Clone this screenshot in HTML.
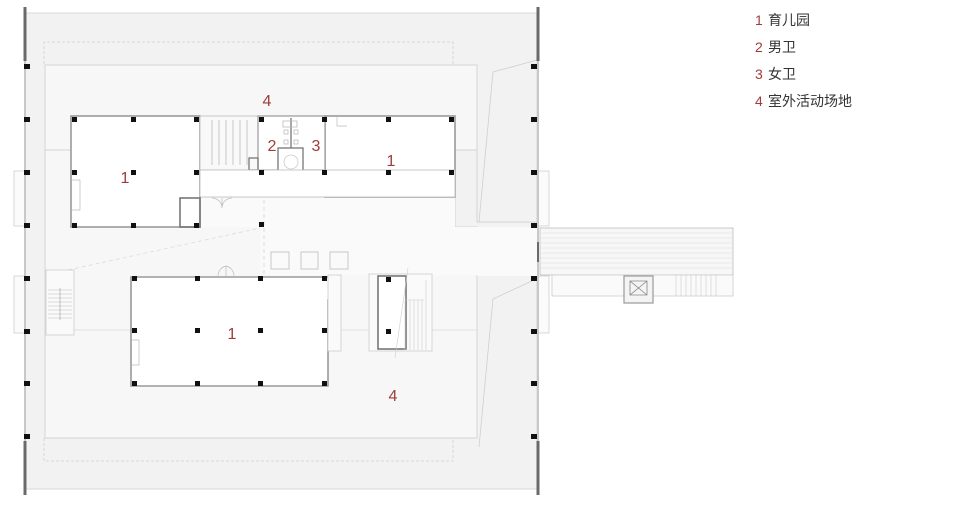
<!DOCTYPE html>
<html><head><meta charset="utf-8"><style>
html,body{margin:0;padding:0;background:#fff;width:960px;height:509px;overflow:hidden}
svg{display:block}
.lg{font-family:"Liberation Sans","Noto Sans CJK SC",sans-serif;font-size:14px}
</style></head><body>
<svg width="960" height="509" viewBox="0 0 960 509" xmlns="http://www.w3.org/2000/svg">
<!-- outer deck -->
<rect x="25" y="13" width="512" height="476" fill="#f2f2f2" stroke="#d8d8d8" stroke-width="1"/>
<!-- side boxes -->
<g fill="#fbfbfb" stroke="#cfcfcf" stroke-width="0.8">
<rect x="14" y="171" width="11" height="55"/><rect x="14" y="276" width="11" height="57"/>
<rect x="537" y="171" width="12" height="55"/><rect x="537" y="276" width="12" height="57"/>
</g>
<!-- dashed -->
<g fill="none" stroke="#cfcfcf" stroke-width="0.8" stroke-dasharray="3,2">
<polyline points="44,64 44,42 453,42 453,64"/>
<polyline points="44,438 44,461 453,461 453,438"/>
</g>
<!-- platform -->
<path d="M45,65 H477 V150 H455 V227 H477 V438 H45 Z" fill="#f7f7f7" stroke="#d4d4d4" stroke-width="1"/>
<path d="M477,65 V222 H537 M477,280 V438" fill="none" stroke="#d4d4d4" stroke-width="1"/>
<polyline points="537,60 493,72 479,222" fill="none" stroke="#cfcfcf" stroke-width="0.8"/>
<polyline points="536,279 493,299 479,447" fill="none" stroke="#cfcfcf" stroke-width="0.8"/>
<line x1="45" y1="150" x2="70" y2="150" stroke="#d4d4d4"/>
<!-- corridor light region -->
<path d="M200,197 H455 V227 H537 V276 H477 V275 H260 V227 H200 Z" fill="#fafafa"/>
<line x1="68" y1="270" x2="260" y2="228" stroke="#d8d8d8" stroke-width="0.7" stroke-dasharray="4,3"/>
<line x1="264" y1="200" x2="264" y2="275" stroke="#cfcfcf" stroke-width="0.7" stroke-dasharray="4,3"/>
<line x1="74" y1="330" x2="131" y2="330" stroke="#d8d8d8" stroke-width="0.8"/>
<line x1="341" y1="330" x2="369" y2="330" stroke="#d8d8d8" stroke-width="0.8"/>
<line x1="432" y1="330" x2="477" y2="330" stroke="#d8d8d8" stroke-width="0.8"/>
<!-- outer edge bars -->
<line x1="25" y1="7" x2="25" y2="495" stroke="#c8c8c8" stroke-width="2"/>
<line x1="538" y1="7" x2="538" y2="495" stroke="#c8c8c8" stroke-width="2"/>
<g stroke="#6a6a6a" stroke-width="3">
<line x1="25" y1="7" x2="25" y2="61"/><line x1="25" y1="441" x2="25" y2="495"/>
<line x1="538" y1="7" x2="538" y2="61"/><line x1="538" y1="441" x2="538" y2="495"/>
<line x1="538" y1="242" x2="538" y2="262" stroke-width="2"/>
</g>
<!-- buildings -->
<g fill="#fff" stroke="#9a9a9a" stroke-width="1.6">
<rect x="71" y="116" width="129" height="111"/>
<rect x="325" y="116" width="130" height="81"/>
<path d="M131,277 H330 V300 H328 V386 H131 Z"/>
</g>
<rect x="200" y="116" width="58" height="54" fill="#f9f9f9" stroke="#bbb" stroke-width="0.8"/>
<g stroke="#d0d0d0" stroke-width="1.2">
<line x1="212" y1="120" x2="212" y2="165"/><line x1="219" y1="120" x2="219" y2="165"/>
<line x1="226" y1="120" x2="226" y2="165"/><line x1="233" y1="120" x2="233" y2="165"/>
<line x1="240" y1="120" x2="240" y2="165"/><line x1="247" y1="120" x2="247" y2="165"/>
</g>
<rect x="258" y="116" width="67" height="54" fill="#fff" stroke="#999" stroke-width="1.2"/>
<line x1="291" y1="118" x2="291" y2="148" stroke="#888" stroke-width="1.5"/>
<rect x="278" y="148" width="25" height="25" fill="#fff" stroke="#777" stroke-width="1.3"/>
<circle cx="291" cy="162" r="7" fill="none" stroke="#ccc" stroke-width="0.8"/>
<g fill="none" stroke="#bbb" stroke-width="0.8">
<rect x="283" y="121" width="14" height="6"/><rect x="284" y="130" width="4" height="4"/><rect x="294" y="130" width="4" height="4"/>
<rect x="284" y="140" width="4" height="4"/><rect x="294" y="140" width="4" height="4"/>
</g>
<rect x="249" y="158" width="9" height="12" fill="none" stroke="#777" stroke-width="1.3"/>
<rect x="200" y="170" width="255" height="27" fill="#fff" stroke="#bbb" stroke-width="0.8"/>
<rect x="180" y="198" width="20" height="29" fill="none" stroke="#777" stroke-width="1.6"/>
<!-- doors -->
<g fill="none" stroke="#bbb" stroke-width="0.7">
<path d="M222,198 v10 a10,10 0 0 0 -10,-10 M222,198 v10 a10,10 0 0 1 10,-10"/>
<path d="M226,276 v-10 a10,10 0 0 0 -8,10 M226,276 v-10 a10,10 0 0 1 8,10"/>
<path d="M72,180 h8 v30 h-8"/>
<path d="M131,340 h8 v25 h-8"/>
<path d="M337,116 v10 h10"/>
</g>
<!-- small squares -->
<g fill="#fafafa" stroke="#c8c8c8" stroke-width="1">
<rect x="271" y="252" width="18" height="17"/><rect x="301" y="252" width="17" height="17"/><rect x="330" y="252" width="18" height="17"/>
</g>
<rect x="328" y="275" width="13" height="76" fill="#fafafa" stroke="#ccc" stroke-width="0.8"/>
<!-- stair right -->
<rect x="369" y="274" width="63" height="77" fill="#fafafa" stroke="#ccc" stroke-width="0.8"/>
<rect x="378" y="276" width="28" height="73" fill="#fff" stroke="#777" stroke-width="1.6"/>
<g stroke="#ccc" stroke-width="0.6">
<line x1="405" y1="300" x2="424" y2="300"/><line x1="405" y1="350" x2="405" y2="300"/>
<line x1="410" y1="300" x2="410" y2="350"/><line x1="414" y1="300" x2="414" y2="350"/><line x1="418" y1="300" x2="418" y2="350"/><line x1="422" y1="300" x2="422" y2="350"/><line x1="426" y1="280" x2="426" y2="350"/>
<line x1="408" y1="268" x2="395" y2="358"/>
</g>
<!-- stair left -->
<rect x="46" y="270" width="28" height="65" fill="#fafafa" stroke="#ccc" stroke-width="0.8"/>
<g stroke="#bbb" stroke-width="0.5">
<line x1="48" y1="290" x2="72" y2="290"/><line x1="48" y1="294" x2="72" y2="294"/><line x1="48" y1="298" x2="72" y2="298"/><line x1="48" y1="302" x2="72" y2="302"/><line x1="48" y1="306" x2="72" y2="306"/><line x1="48" y1="310" x2="72" y2="310"/><line x1="48" y1="314" x2="72" y2="314"/><line x1="48" y1="318" x2="72" y2="318"/>
<line x1="60" y1="288" x2="60" y2="320" stroke="#888"/>
</g>
<!-- bridge -->
<rect x="540" y="228" width="193" height="47" fill="#f7f7f7" stroke="#bbb" stroke-width="0.8"/>
<g stroke="#ddd" stroke-width="0.5">
<line x1="540" y1="233" x2="733" y2="233"/><line x1="540" y1="238" x2="733" y2="238"/><line x1="540" y1="243" x2="733" y2="243"/><line x1="540" y1="248" x2="733" y2="248"/><line x1="540" y1="253" x2="733" y2="253"/><line x1="540" y1="258" x2="733" y2="258"/><line x1="540" y1="263" x2="733" y2="263"/><line x1="540" y1="268" x2="733" y2="268"/>
</g>
<rect x="552" y="275" width="181" height="21" fill="#fafafa" stroke="#ccc" stroke-width="0.8"/>
<g stroke="#ccc" stroke-width="0.6"><line x1="676" y1="275" x2="676" y2="296"/><line x1="681" y1="275" x2="681" y2="296"/><line x1="686" y1="275" x2="686" y2="296"/><line x1="691" y1="275" x2="691" y2="296"/><line x1="696" y1="275" x2="696" y2="296"/><line x1="701" y1="275" x2="701" y2="296"/><line x1="706" y1="275" x2="706" y2="296"/><line x1="711" y1="275" x2="711" y2="296"/><line x1="716" y1="275" x2="716" y2="296"/></g>
<rect x="624" y="276" width="29" height="27" fill="#f4f4f4" stroke="#999" stroke-width="1.2"/>
<path d="M630,281 h17 v14 h-17 z M630,281 l17,14 M647,281 l-17,14" fill="none" stroke="#888" stroke-width="0.8"/>
<!-- columns -->
<g fill="#111">
<rect x="24" y="64" width="6" height="5"/><rect x="24" y="117" width="6" height="5"/><rect x="24" y="170" width="6" height="5"/><rect x="24" y="223" width="6" height="5"/><rect x="24" y="276" width="6" height="5"/><rect x="24" y="329" width="6" height="5"/><rect x="24" y="381" width="6" height="5"/><rect x="24" y="434" width="6" height="5"/>
<rect x="531" y="64" width="6" height="5"/><rect x="531" y="117" width="6" height="5"/><rect x="531" y="170" width="6" height="5"/><rect x="531" y="223" width="6" height="5"/><rect x="531" y="276" width="6" height="5"/><rect x="531" y="329" width="6" height="5"/><rect x="531" y="381" width="6" height="5"/><rect x="531" y="434" width="6" height="5"/>
<rect x="72" y="117" width="5" height="5"/><rect x="131" y="117" width="5" height="5"/><rect x="194" y="117" width="5" height="5"/>
<rect x="72" y="170" width="5" height="5"/><rect x="131" y="170" width="5" height="5"/><rect x="194" y="170" width="5" height="5"/>
<rect x="72" y="223" width="5" height="5"/><rect x="131" y="223" width="5" height="5"/><rect x="194" y="223" width="5" height="5"/>
<rect x="259" y="117" width="5" height="5"/><rect x="322" y="117" width="5" height="5"/><rect x="259" y="170" width="5" height="5"/><rect x="322" y="170" width="5" height="5"/>
<rect x="386" y="117" width="5" height="5"/><rect x="449" y="117" width="5" height="5"/><rect x="386" y="170" width="5" height="5"/><rect x="449" y="170" width="5" height="5"/>
<rect x="259" y="222" width="5" height="5"/>
<rect x="132" y="276" width="5" height="5"/><rect x="195" y="276" width="5" height="5"/><rect x="258" y="276" width="5" height="5"/><rect x="322" y="276" width="5" height="5"/>
<rect x="132" y="328" width="5" height="5"/><rect x="195" y="328" width="5" height="5"/><rect x="258" y="328" width="5" height="5"/><rect x="322" y="328" width="5" height="5"/>
<rect x="132" y="381" width="5" height="5"/><rect x="195" y="381" width="5" height="5"/><rect x="258" y="381" width="5" height="5"/><rect x="322" y="381" width="5" height="5"/>
<rect x="386" y="277" width="5" height="5"/><rect x="386" y="329" width="5" height="5"/>
</g>
<!-- labels -->
<g fill="#a03c3c" font-family="Liberation Sans, sans-serif" font-size="16" text-anchor="middle">
<text x="267" y="106">4</text><text x="125" y="183">1</text><text x="391" y="166">1</text>
<text x="272" y="151">2</text><text x="316" y="151">3</text>
<text x="232" y="339">1</text><text x="393" y="401">4</text>
</g>
<g class="lg">
<text x="755" y="25" fill="#a03c3c">1</text><text x="768" y="25" fill="#333">育儿园</text>
<text x="755" y="52" fill="#a03c3c">2</text><text x="768" y="52" fill="#333">男卫</text>
<text x="755" y="79" fill="#a03c3c">3</text><text x="768" y="79" fill="#333">女卫</text>
<text x="755" y="106" fill="#a03c3c">4</text><text x="768" y="106" fill="#333">室外活动场地</text>
</g>
</svg>
</body></html>
